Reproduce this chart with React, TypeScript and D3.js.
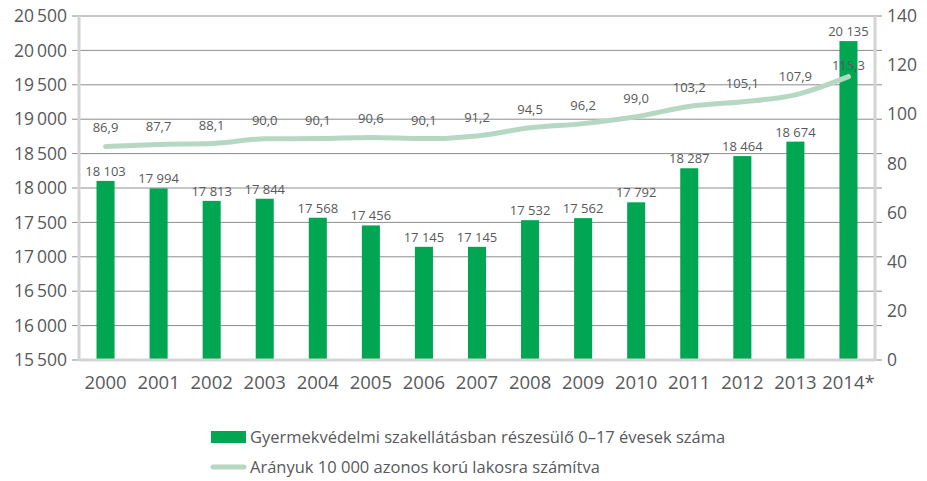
import React from "react";
import * as d3 from "d3";

const years = ["2000", "2001", "2002", "2003", "2004", "2005", "2006", "2007", "2008", "2009", "2010", "2011", "2012", "2013", "2014*"];
const children = [18103, 17994, 17813, 17844, 17568, 17456, 17145, 17145, 17532, 17562, 17792, 18287, 18464, 18674, 20135];
const ratio = [86.9, 87.7, 88.1, 90.0, 90.1, 90.6, 90.1, 91.2, 94.5, 96.2, 99.0, 103.2, 105.1, 107.9, 115.3];
const leftTicks = [15500, 16000, 16500, 17000, 17500, 18000, 18500, 19000, 19500, 20000, 20500];
const rightTicks = [0, 20, 40, 60, 80, 100, 120, 140];
const legendLabels = [
    "Gyermekvédelmi szakellátásban részesülő 0–17 évesek száma",
    "Arányuk 10 000 azonos korú lakosra számítva",
];

const W = 927;
const H = 481;
const left = 79;
const right = 875;
const top = 16;
const bottom = 360;
const font = "'Open Sans', sans-serif";
const textColor = "#58595b";
const barColor = "#00a651";
const lineColor = "#b6d8c2";

const fmtThousands = (n: number, sep: string): string =>
    n.toString().replace(/\B(?=(\d{3})+(?!\d))/g, sep);
const fmtDecimal = (n: number): string => n.toFixed(1).replace(".", ",");

const App = () => {
    const x = d3.scaleBand().domain(years).range([left, right]).paddingInner(0.66).paddingOuter(0.33);
    const yL = d3.scaleLinear().domain([15500, 20500]).range([bottom, top]);
    const yR = d3.scaleLinear().domain([0, 140]).range([bottom, top]);
    const cx = (i: number) => (x(years[i]) as number) + x.bandwidth() / 2;

    const line = d3
        .line<number>()
        .x((_d, i) => cx(i))
        .y((d) => yR(d))
        .curve(d3.curveMonotoneX);

    return (
        <svg width={W} height={H} style={{ display: "block", position: "absolute", left: 0, top: 0, background: "#fff" }}>
            {/* grid */}
            {leftTicks.map((t) => (
                <g key={t}>
                    <line x1={left - 7} x2={right + 7} y1={yL(t)} y2={yL(t)} stroke="#8c8c8c" strokeWidth={1} />
                    <text x={left - 12} y={yL(t)} dy="0.35em" textAnchor="end" fontSize={17.5} fill={textColor} fontFamily={font}>
                        {fmtThousands(t, "\u2009")}
                    </text>
                </g>
            ))}
            {rightTicks.map((t) => (
                <text key={t} x={right + 12} y={yR(t)} dy="0.35em" textAnchor="start" fontSize={17.5} fill={textColor} fontFamily={font}>
                    {t}
                </text>
            ))}
            {/* bars */}
            {children.map((v, i) => (
                <g key={years[i]}>
                    <rect x={x(years[i])} y={yL(v)} width={x.bandwidth()} height={bottom - yL(v)} fill={barColor} />
                    <text x={cx(i)} y={yL(v) - 5} textAnchor="middle" fontSize={13} fill={textColor} fontFamily={font}>
                        {fmtThousands(v, " ")}
                    </text>
                </g>
            ))}
            {/* axis frame */}
            <line x1={left} x2={left} y1={top} y2={bottom + 1} stroke="#d4d4d4" strokeWidth={3} />
            <line x1={right} x2={right} y1={top} y2={bottom + 1} stroke="#d4d4d4" strokeWidth={3} />
            <line x1={left} x2={right} y1={bottom} y2={bottom} stroke="#d4d4d4" strokeWidth={3} />
            {/* ratio line */}
            <path d={line(ratio) as string} fill="none" stroke={lineColor} strokeWidth={5} strokeLinecap="round" />
            {ratio.map((v, i) => (
                <text key={years[i]} x={cx(i)} y={yR(v) - (i === ratio.length - 1 ? 7 : 14)} textAnchor="middle" fontSize={13} fill={textColor} fontFamily={font}>
                    {fmtDecimal(v)}
                </text>
            ))}
            {/* x labels */}
            {years.map((y) => (
                <text key={y} x={(x(y) as number) + x.bandwidth() / 2} y={bottom + 29} textAnchor="middle" fontSize={18.5} fill={textColor} fontFamily={font}>
                    {y}
                </text>
            ))}
            {/* legend */}
            <rect x={211} y={431} width={35} height={12} fill={barColor} />
            <text x={250} y={437} dy="0.35em" fontSize={16.5} fill={textColor} fontFamily={font}>
                {legendLabels[0]}
            </text>
            <line x1={213} x2={244} y1={467} y2={467} stroke={lineColor} strokeWidth={5} strokeLinecap="round" />
            <text x={250} y={467} dy="0.35em" fontSize={16.5} fill={textColor} fontFamily={font}>
                {legendLabels[1]}
            </text>
        </svg>
    );
};

export default App;
